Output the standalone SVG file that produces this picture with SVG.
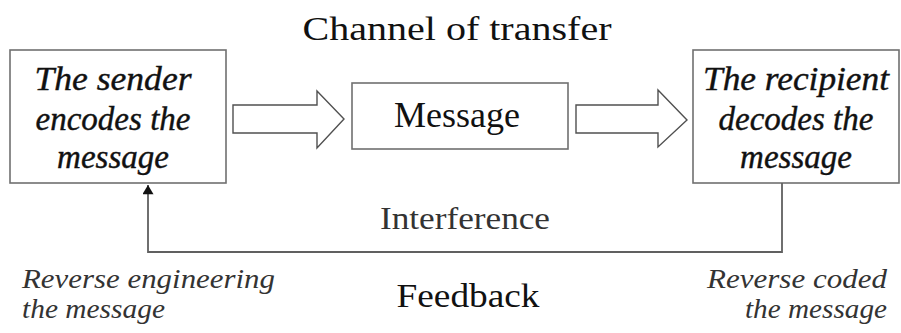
<svg xmlns="http://www.w3.org/2000/svg" width="901" height="333" viewBox="0 0 901 333">
<style>
.box{fill:#fff;stroke:#707070;stroke-width:1.6}
.arr{fill:#fff;stroke:#505050;stroke-width:1.4;stroke-linejoin:miter}
.line{fill:none;stroke:#606060;stroke-width:1.8}
</style>
<defs>
<marker id="ah" viewBox="0 0 10 12" refX="10" refY="6" markerWidth="12" markerHeight="11" orient="auto" markerUnits="userSpaceOnUse">
<path d="M0,0 L10,6 L0,12 z" fill="#111"/>
</marker>
</defs>
<text x="457" y="40" font-family="Liberation Serif, serif" font-size="33" text-anchor="middle" fill="#111" textLength="309" lengthAdjust="spacingAndGlyphs">Channel of transfer</text>
<g id="sender">
<rect class="box" x="10" y="50" width="216" height="133"/>
<text x="113" y="90" font-family="Liberation Serif, serif" font-style="italic" font-size="33" text-anchor="middle" fill="#111" stroke="#111" stroke-width="0.4" textLength="157" lengthAdjust="spacingAndGlyphs">The sender</text>
<text x="113" y="130" font-family="Liberation Serif, serif" font-style="italic" font-size="33" text-anchor="middle" fill="#111" stroke="#111" stroke-width="0.4" textLength="155" lengthAdjust="spacingAndGlyphs">encodes the</text>
<text x="113" y="168" font-family="Liberation Serif, serif" font-style="italic" font-size="33" text-anchor="middle" fill="#111" stroke="#111" stroke-width="0.4">message</text>
</g>
<g id="message">
<rect class="box" x="352" y="83" width="216" height="66"/>
<text x="457" y="127" font-family="Liberation Serif, serif" font-size="36" text-anchor="middle" fill="#111">Message</text>
</g>
<g id="recipient">
<rect class="box" x="693" y="50" width="206" height="133"/>
<text x="796" y="90" font-family="Liberation Serif, serif" font-style="italic" font-size="33" text-anchor="middle" fill="#111" stroke="#111" stroke-width="0.4" textLength="186" lengthAdjust="spacingAndGlyphs">The recipient</text>
<text x="796" y="130" font-family="Liberation Serif, serif" font-style="italic" font-size="33" text-anchor="middle" fill="#111" stroke="#111" stroke-width="0.4">decodes the</text>
<text x="796" y="168" font-family="Liberation Serif, serif" font-style="italic" font-size="33" text-anchor="middle" fill="#111" stroke="#111" stroke-width="0.4">message</text>
</g>
<g id="connectors">
<path class="arr" d="M233,105 L317,105 L317,91 L344,119 L317,148 L317,133 L233,133 Z"/>
<path class="arr" d="M576,105 L658,105 L658,90 L687,120 L658,147 L658,133 L576,133 Z"/>
<path class="line" d="M782,183 L782,252 L148,252 L148,185" marker-end="url(#ah)"/>
</g>
<text x="465" y="229" font-family="Liberation Serif, serif" font-size="31" text-anchor="middle" fill="#333" textLength="170" lengthAdjust="spacingAndGlyphs">Interference</text>
<text x="468" y="307" font-family="Liberation Serif, serif" font-size="34" text-anchor="middle" fill="#111" textLength="143" lengthAdjust="spacingAndGlyphs">Feedback</text>
<text x="22" y="288" font-family="Liberation Serif, serif" font-style="italic" font-size="27" fill="#333" textLength="253" lengthAdjust="spacingAndGlyphs">Reverse engineering</text>
<text x="22" y="318" font-family="Liberation Serif, serif" font-style="italic" font-size="27" fill="#333" textLength="143" lengthAdjust="spacingAndGlyphs">the message</text>
<text x="887" y="288" font-family="Liberation Serif, serif" font-style="italic" font-size="27" fill="#333" text-anchor="end" textLength="180" lengthAdjust="spacingAndGlyphs">Reverse coded</text>
<text x="887" y="318" font-family="Liberation Serif, serif" font-style="italic" font-size="27" fill="#333" text-anchor="end" textLength="142" lengthAdjust="spacingAndGlyphs">the message</text>
</svg>
